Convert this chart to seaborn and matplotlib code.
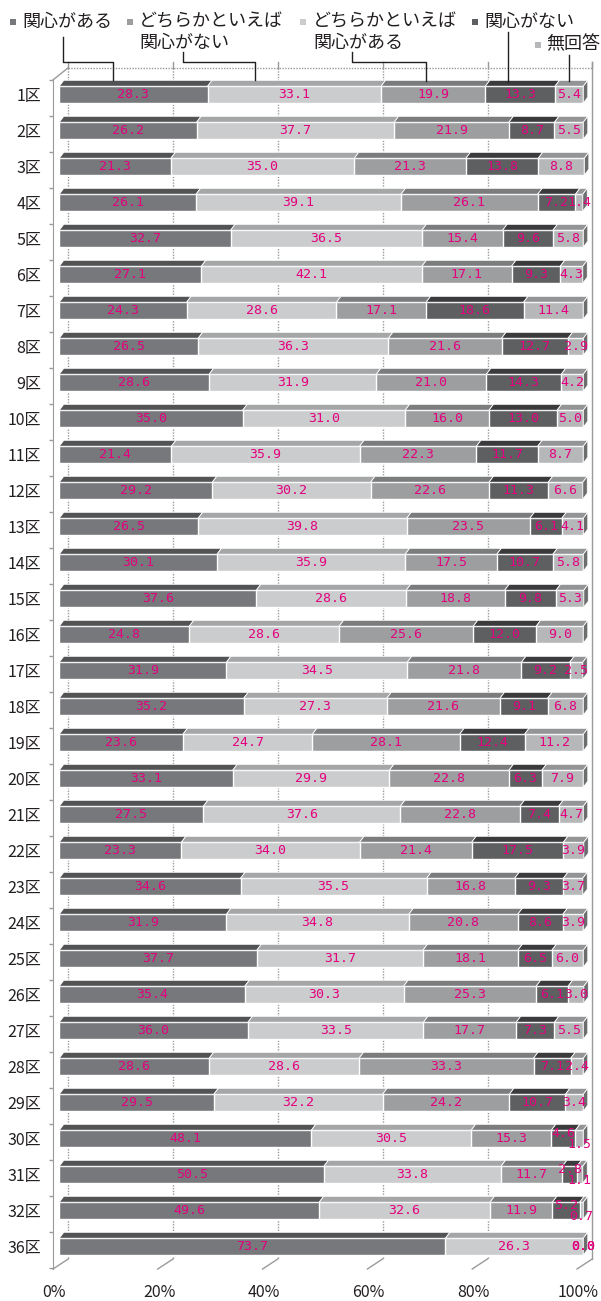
import matplotlib
matplotlib.use("Agg")
import matplotlib.pyplot as plt
import matplotlib.transforms as mtransforms
import numpy as np
import pandas as pd
import seaborn as sns
from matplotlib.lines import Line2D
from matplotlib.patches import Polygon, Rectangle

# --- data (percent) ---
wards = ["1区", "2区", "3区", "4区", "5区", "6区", "7区", "8区", "9区", "10区",
         "11区", "12区", "13区", "14区", "15区", "16区", "17区", "18区", "19区", "20区",
         "21区", "22区", "23区", "24区", "25区", "26区", "27区", "28区", "29区", "30区",
         "31区", "32区", "36区"]
kanshin_aru = [28.3, 26.2, 21.3, 26.1, 32.7, 27.1, 24.3, 26.5, 28.6, 35.0,
               21.4, 29.2, 26.5, 30.1, 37.6, 24.8, 31.9, 35.2, 23.6, 33.1,
               27.5, 23.3, 34.6, 31.9, 37.7, 35.4, 36.0, 28.6, 29.5, 48.1,
               50.5, 49.6, 73.7]
dochira_aru = [33.1, 37.7, 35.0, 39.1, 36.5, 42.1, 28.6, 36.3, 31.9, 31.0,
               35.9, 30.2, 39.8, 35.9, 28.6, 28.6, 34.5, 27.3, 24.7, 29.9,
               37.6, 34.0, 35.5, 34.8, 31.7, 30.3, 33.5, 28.6, 32.2, 30.5,
               33.8, 32.6, 26.3]
dochira_nai = [19.9, 21.9, 21.3, 26.1, 15.4, 17.1, 17.1, 21.6, 21.0, 16.0,
               22.3, 22.6, 23.5, 17.5, 18.8, 25.6, 21.8, 21.6, 28.1, 22.8,
               22.8, 21.4, 16.8, 20.8, 18.1, 25.3, 17.7, 33.3, 24.2, 15.3,
               11.7, 11.9, 0.0]
kanshin_nai = [13.3, 8.7, 13.8, 7.2, 9.6, 9.3, 18.6, 12.7, 14.3, 13.0,
               11.7, 11.3, 6.1, 10.7, 9.8, 12.0, 9.2, 9.1, 12.4, 6.3,
               7.4, 17.5, 9.3, 8.6, 6.5, 6.1, 7.3, 7.1, 10.7, 4.6,
               2.8, 5.2, 0.0]
mukaito = [5.4, 5.5, 8.8, 1.4, 5.8, 4.3, 11.4, 2.9, 4.2, 5.0,
           8.7, 6.6, 4.1, 5.8, 5.3, 9.0, 2.5, 6.8, 11.2, 7.9,
           4.7, 3.9, 3.7, 3.9, 6.0, 3.0, 5.5, 2.4, 3.4, 1.5,
           1.1, 0.7, 0.0]

series = ["関心がある", "どちらかといえば関心がある", "どちらかといえば関心がない", "関心がない", "無回答"]
front = {"関心がある": "#77787b", "どちらかといえば関心がある": "#cbcccd",
         "どちらかといえば関心がない": "#9d9ea0", "関心がない": "#5e5f61", "無回答": "#b6b7b9"}
top = {"関心がある": "#525355", "どちらかといえば関心がある": "#a5a6a8",
       "どちらかといえば関心がない": "#7b7c7e", "関心がない": "#3b3b3d", "無回答": "#939496"}

df = pd.DataFrame({"ward": wards, "関心がある": kanshin_aru, "どちらかといえば関心がある": dochira_aru,
                   "どちらかといえば関心がない": dochira_nai, "関心がない": kanshin_nai, "無回答": mukaito})
cum = df[series].cumsum(axis=1)

W, H = 601, 1301
BAR_H = 0.47
DX, DY = 0.86, 0.165      # bar top face depth
BX = 1.72                 # back wall offset
Y_TOP, Y_BACK, Y_FLOOR, X_SPINE = -0.75, 32.34, 32.62, -1.2
GRAY = "#9a9a9a"
INK = "#231f20"
PINK = "#e4007f"


def fx(px):
    return px / W


def fy(py):
    return 1 - py / H


fig = plt.figure(figsize=(W / 100, H / 100), dpi=100)
ax = fig.add_axes([fx(53), fy(1269), fx(601 - 53), (1269 - 62) / H])

for name in reversed(series):
    d = pd.DataFrame({"ward": wards, "end": cum[name]})
    sns.barplot(data=d, x="end", y="ward", order=wards, orient="h", color=front[name],
                saturation=1, width=BAR_H, edgecolor="white", linewidth=1.0,
                errorbar=None, ax=ax, zorder=2)

ax.set_xlim(X_SPINE, (601 - 59.3) / 5.24)
ax.set_ylim(Y_FLOOR, -0.908)

# back wall: dotted gridlines, top line, right border, floor diagonals
for v in [0, 20, 40, 60, 80]:
    ax.plot([v + BX, v + BX], [Y_TOP, Y_BACK], color=GRAY, lw=1, ls=(0, (1, 1)), zorder=0.5, clip_on=False)
for v in [0, 20, 40, 60, 80, 100]:
    ax.plot([v + BX, v + BX], [Y_TOP - 0.17, Y_TOP], color=GRAY, lw=1, zorder=0.5, clip_on=False)
    ax.plot([v - 1.2, v + BX], [Y_FLOOR, Y_BACK], color=GRAY, lw=1, zorder=0.5, clip_on=False)
ax.plot([BX, 100 + BX], [Y_TOP, Y_TOP], color=GRAY, lw=1, ls=(0, (1, 1)), zorder=0.5, clip_on=False)
ax.plot([100 + BX, 100 + BX], [Y_TOP - 0.17, Y_BACK], color=GRAY, lw=1, zorder=0.5, clip_on=False)
ax.plot([X_SPINE, BX], [-0.41, Y_TOP], color=GRAY, lw=1, zorder=0.5, clip_on=False)

# 3d top faces, end caps and value labels
for i in range(len(wards)):
    y_top = i - BAR_H / 2
    left = 0.0
    for name in series:
        val = df.loc[i, name]
        right = left + val
        if val > 0:
            ax.add_patch(Polygon([(left, y_top), (right, y_top), (right + DX, y_top - DY), (left + DX, y_top - DY)],
                                 closed=True, facecolor=top[name], edgecolor="white", lw=0.6, zorder=2.5))
        dy = 0.0
        if mukaito[i] < 2 and kanshin_nai[i] < 6 and mukaito[i] > 0:
            dy = -0.15 if name == "関心がない" else (0.15 if name == "無回答" else 0.0)
        ax.text(left + val / 2, i + dy, f"{val:.1f}", color=PINK, ha="center", va="center",
                family="DejaVu Sans Mono", fontsize=9.5, zorder=4, clip_on=False)
        left = right
    ax.add_patch(Polygon([(left, y_top), (left + DX, y_top - DY), (left + DX, y_top - DY + BAR_H), (left, y_top + BAR_H)],
                         closed=True, facecolor="#6c6d6f", edgecolor="white", lw=0.6, zorder=2.5, clip_on=False))

# axes styling
for s in ["top", "right", "bottom"]:
    ax.spines[s].set_visible(False)
ax.spines["left"].set_color(GRAY)
ax.spines["left"].set_bounds(-0.41, Y_FLOOR)
ax.set_yticks(np.arange(len(wards) + 1) - 0.41, minor=True)
ax.tick_params(axis="y", which="minor", length=3, color=GRAY, width=1)
ax.tick_params(axis="y", which="major", length=0, pad=8.5)
ax.set_yticks(range(len(wards)))
ax.set_yticklabels(wards, family="Noto Sans CJK JP", fontsize=11.5, color=INK)
ax.set_xticks([0, 20, 40, 60, 80, 100])
ax.set_xticklabels(["0%", "20%", "40%", "60%", "80%", "100%"], family="Noto Sans CJK JP", fontsize=11.5, color=INK)
ax.tick_params(axis="x", length=0, pad=11)
shift = mtransforms.ScaledTranslation(-0.05, 0, fig.dpi_scale_trans)
for lab in ax.get_xticklabels():
    lab.set_transform(lab.get_transform() + shift)
ax.set_xlabel("")
ax.set_ylabel("")

# legend with leader lines
legend = [("関心がある", None, 12.7, 22.7, 21.7, "#77787b"),
          ("どちらかといえば", "関心がない", 130.0, 139.3, 21.7, "#9d9ea0"),
          ("どちらかといえば", "関心がある", 302.7, 313.3, 21.7, "#cbcccd"),
          ("関心がない", None, 475.0, 484.3, 21.7, "#5e5f61"),
          ("無回答", None, 537.7, 546.0, 44.5, "#b6b7b9")]
for line1, line2, mx, tx, ty, c in legend:
    fig.add_artist(Rectangle((fx(mx - 3), fy(ty + 3)), 6 / W, 6 / H, transform=fig.transFigure,
                             facecolor=c, edgecolor="none"))
    fig.text(fx(tx), fy(ty), line1, family="Noto Sans CJK JP", fontsize=13, color=INK, va="center", ha="left")
    if line2:
        fig.text(fx(tx), fy(ty + 21), line2, family="Noto Sans CJK JP", fontsize=13, color=INK, va="center", ha="left")

leaders = [[(63.3, 37), (63.3, 61.7), (113.3, 61.7), (113.3, 80)],
           [(182.7, 51.7), (182.7, 61.7), (255, 61.7), (255, 80)],
           [(351.7, 51.7), (351.7, 61.7), (426, 61.7), (426, 81)],
           [(507.7, 31.7), (507.7, 81.7)],
           [(569.3, 55), (569.3, 81)]]
for pts in leaders:
    xs = [fx(p[0]) for p in pts]
    ys = [fy(p[1]) for p in pts]
    fig.add_artist(Line2D(xs, ys, transform=fig.transFigure, color=INK, lw=1))

fig.savefig("out.png", dpi=100)
